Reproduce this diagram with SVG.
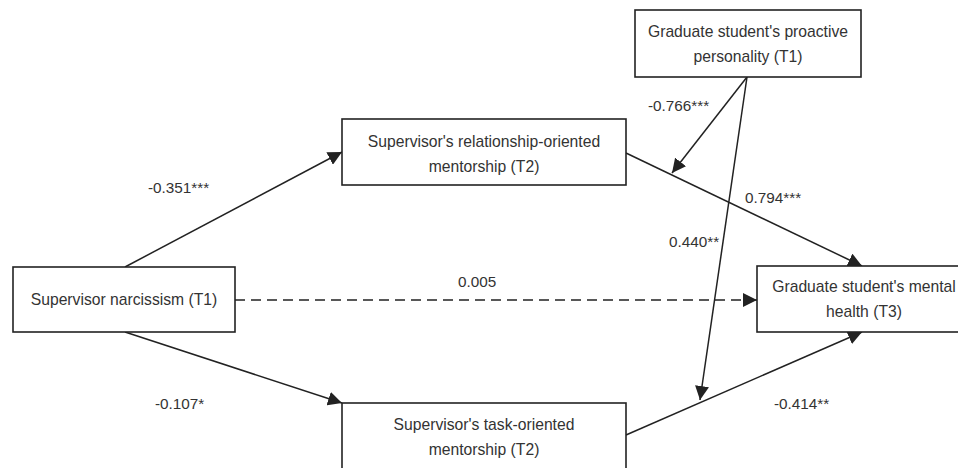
<svg xmlns="http://www.w3.org/2000/svg" width="958" height="468" viewBox="0 0 958 468">
<defs>
<style>
.box{fill:#fff;stroke:#222;stroke-width:1.6}
.t{font-family:"Liberation Sans",Arial,sans-serif;font-size:15.7px;fill:#333;text-anchor:middle}
.l{font-family:"Liberation Sans",Arial,sans-serif;font-size:15.3px;fill:#333}
.c{fill:none;stroke:#222;stroke-width:1.5}
</style>
<marker id="ah" viewBox="0 0 10 10" refX="10" refY="5" markerWidth="14" markerHeight="14" markerUnits="userSpaceOnUse" orient="auto">
<path d="M0,0 L10,5 L0,10 z" fill="#222"/>
</marker>
</defs>
<rect width="958" height="468" fill="#fff"/>
<g id="connectors">
<line class="c" x1="125" y1="267" x2="342" y2="152" marker-end="url(#ah)"/>
<line class="c" x1="125" y1="332" x2="342" y2="403" marker-end="url(#ah)"/>
<line class="c" x1="235" y1="300" x2="757" y2="300" stroke-dasharray="10,6" marker-end="url(#ah)"/>
<line class="c" x1="626" y1="153" x2="862" y2="266" marker-end="url(#ah)"/>
<line class="c" x1="626" y1="435" x2="862" y2="332" marker-end="url(#ah)"/>
<line class="c" x1="747" y1="77" x2="672" y2="173" marker-end="url(#ah)"/>
<line class="c" x1="747" y1="77" x2="700" y2="400" marker-end="url(#ah)"/>
<text class="l" x="148" y="193">-0.351***</text>
<text class="l" x="155" y="409">-0.107*</text>
<text class="l" x="458" y="287">0.005</text>
<text class="l" x="745" y="203">0.794***</text>
<text class="l" x="669" y="247">0.440**</text>
<text class="l" x="648" y="111">-0.766***</text>
<text class="l" x="774" y="409">-0.414**</text>
</g>
<g id="proactive">
<rect class="box" x="635" y="10" width="226" height="67"/>
<text class="t" x="748" y="37">Graduate student's proactive</text>
<text class="t" x="748" y="62">personality (T1)</text>
</g>
<g id="narcissism">
<rect class="box" x="13" y="267" width="222" height="65"/>
<text class="t" x="124" y="305">Supervisor narcissism (T1)</text>
</g>
<g id="relationship">
<rect class="box" x="342" y="119" width="284" height="66"/>
<text class="t" x="484" y="147">Supervisor's relationship-oriented</text>
<text class="t" x="484" y="172">mentorship (T2)</text>
</g>
<g id="task">
<rect class="box" x="342" y="403" width="284" height="70"/>
<text class="t" x="484" y="430">Supervisor's task-oriented</text>
<text class="t" x="484" y="455">mentorship (T2)</text>
</g>
<g id="mental">
<rect class="box" x="757" y="266" width="205" height="66"/>
<text class="t" x="864" y="292">Graduate student's mental</text>
<text class="t" x="864" y="317">health (T3)</text>
</g>
</svg>
